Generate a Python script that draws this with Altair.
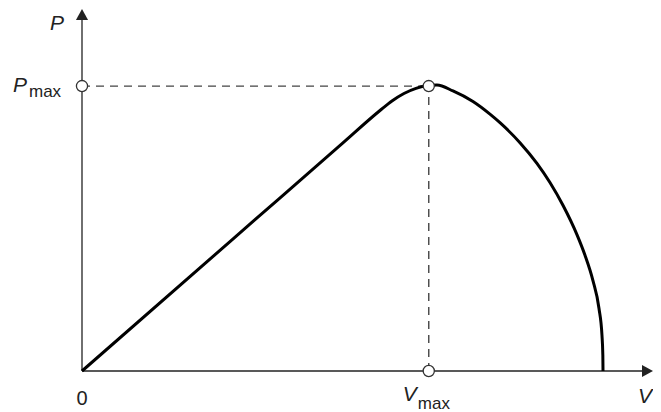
import altair as alt
import pandas as pd

# Curve data (V, P)
V_curve = [0, 26.0, 45.0, 51.56, 53.63, 55.71, 57.79, 59.69, 61.42, 64.19, 67.65, 70.59, 72.32,
           75.78, 78.72, 80.97, 83.22, 85.64, 87.02, 88.41, 89.45, 89.97, 90.12, 90.15]
P_curve = [0, 36.3, 62.8, 71.96, 74.59, 76.66, 78.09, 78.78, 79.0, 77.35, 74.42, 70.94, 68.59,
           63.07, 57.35, 52.07, 45.79, 37.68, 32.04, 24.97, 17.35, 9.89, 4.42, 0]

V_max = 60.0
P_max = 78.7
V_axis_end = 98.8
P_axis_end = 100

FONT = "Liberation Sans"
INK = "#222222"

curve_df = pd.DataFrame({"V": V_curve, "P": P_curve, "o": list(range(len(V_curve)))})

xs = alt.Scale(domain=[0, V_axis_end], nice=False, zero=True)
ys = alt.Scale(domain=[0, P_axis_end], nice=False, zero=True)

def X(field="V"):
    return alt.X(f"{field}:Q", scale=xs, axis=None)

def Y(field="P"):
    return alt.Y(f"{field}:Q", scale=ys, axis=None)

# axes lines
axes_df = pd.DataFrame({
    "V": [0, 0], "P": [0, 0],
    "V2": [V_axis_end - 1.5, 0], "P2": [0, P_axis_end - 2.5],
})
axes = alt.Chart(axes_df).mark_rule(color=INK, strokeWidth=1.3).encode(
    x=X(), y=Y(), x2="V2:Q", y2="P2:Q"
)

# arrow heads
up_df = pd.DataFrame({"V": [0], "P": [P_axis_end]})
right_df = pd.DataFrame({"V": [V_axis_end], "P": [0]})
arrow_up = alt.Chart(up_df).mark_point(
    shape="M0,0L0.55,1L-0.55,1Z", size=484, filled=True, color=INK, opacity=1, strokeWidth=0
).encode(x=X(), y=Y())
arrow_right = alt.Chart(right_df).mark_point(
    shape="M0,0L-1,-0.55L-1,0.55Z", size=484, filled=True, color=INK, opacity=1, strokeWidth=0
).encode(x=X(), y=Y())

# dashed guides
dash_df = pd.DataFrame({
    "V": [0, V_max], "P": [P_max, 0],
    "V2": [V_max, V_max], "P2": [P_max, P_max],
})
dashes = alt.Chart(dash_df).mark_rule(
    color="#444444", strokeWidth=1.4, strokeDash=[8, 6]
).encode(x=X(), y=Y(), x2="V2:Q", y2="P2:Q")

# curve
curve = alt.Chart(curve_df).mark_line(
    color="black", strokeWidth=3, interpolate="monotone"
).encode(x=X(), y=Y(), order="o:Q")

# open circles
circ_df = pd.DataFrame({"V": [0, V_max, V_max], "P": [P_max, P_max, 0]})
circles = alt.Chart(circ_df).mark_point(
    shape="circle", size=125, filled=True, fill="white", stroke="#333333",
    strokeWidth=1.3, opacity=1
).encode(x=X(), y=Y())

# labels
def label(df, text, dx, dy, align, size=20, italic=False):
    return alt.Chart(df).mark_text(
        text=text, dx=dx, dy=dy, align=align, baseline="alphabetic",
        font=FONT, fontSize=size, fontStyle="italic" if italic else "normal",
        color=INK
    ).encode(x=X(), y=Y())

top_df = pd.DataFrame({"V": [0], "P": [P_axis_end]})
pmax_df = pd.DataFrame({"V": [0], "P": [P_max]})
vmax_df = pd.DataFrame({"V": [V_max], "P": [0]})
origin_df = pd.DataFrame({"V": [0], "P": [0]})
vend_df = pd.DataFrame({"V": [V_axis_end], "P": [0]})

labels = [
    label(top_df, "P", -25, 21, "center", 21, True),
    label(pmax_df, "P", -55, 6, "right", 21, True),
    label(pmax_df, "max", -53, 11, "left", 17),
    label(vmax_df, "V", -12, 30, "right", 21, True),
    label(vmax_df, "max", -11, 38, "left", 17),
    label(origin_df, "0", 0, 34, "center", 20),
    label(vend_df, "V", -8, 32, "center", 21, True),
]

chart = alt.layer(axes, dashes, curve, arrow_up, arrow_right, circles, *labels).properties(
    width=571, height=362,
    padding={"left": 74, "top": 1, "right": 0, "bottom": 41},
    autosize="none",
).configure_view(stroke=None)

chart.save("out.html", embed_options={"renderer": "svg", "actions": False})
